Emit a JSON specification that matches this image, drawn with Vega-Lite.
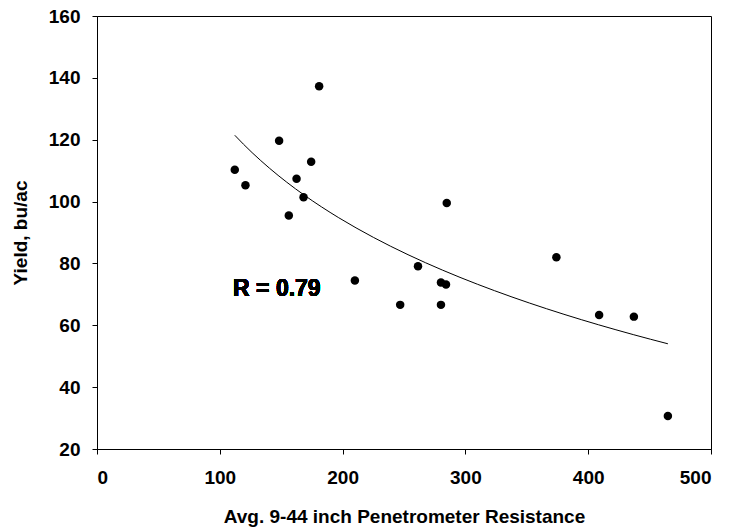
{
  "$schema": "https://vega.github.io/schema/vega-lite/v6.json",
  "width": 614,
  "height": 433,
  "autosize": "none",
  "padding": {"left": 97, "top": 16, "right": 18, "bottom": 78},
  "background": "white",
  "config": {
    "view": {"stroke": "black", "strokeWidth": 1},
    "font": "Liberation Sans",
    "axis": {
      "grid": false,
      "domainColor": "black",
      "domainWidth": 1,
      "tickColor": "black",
      "tickSize": 5,
      "tickWidth": 1,
      "labelFont": "Liberation Sans",
      "labelFontWeight": "bold",
      "labelFontSize": 19,
      "labelColor": "black",
      "titleFont": "Liberation Sans",
      "titleFontWeight": "bold",
      "titleFontSize": 19,
      "titleColor": "black"
    }
  },
  "data": {
    "values": [
      {"Resistance": 112.2, "Yield": 110.3},
      {"Resistance": 120.9, "Yield": 105.3},
      {"Resistance": 148.3, "Yield": 119.7},
      {"Resistance": 156.2, "Yield": 95.5},
      {"Resistance": 162.5, "Yield": 107.4},
      {"Resistance": 168.2, "Yield": 101.4},
      {"Resistance": 174.4, "Yield": 112.9},
      {"Resistance": 180.9, "Yield": 137.3},
      {"Resistance": 210.0, "Yield": 74.5},
      {"Resistance": 246.9, "Yield": 66.6},
      {"Resistance": 261.4, "Yield": 79.1},
      {"Resistance": 280.1, "Yield": 73.8},
      {"Resistance": 284.2, "Yield": 73.2},
      {"Resistance": 280.1, "Yield": 66.6},
      {"Resistance": 284.8, "Yield": 99.5},
      {"Resistance": 374.1, "Yield": 82.0},
      {"Resistance": 408.9, "Yield": 63.3},
      {"Resistance": 437.2, "Yield": 62.8},
      {"Resistance": 464.9, "Yield": 30.7}
    ]
  },
  "encoding": {
    "x": {
      "field": "Resistance",
      "type": "quantitative",
      "scale": {"domain": [0, 500], "nice": false, "zero": false},
      "axis": {
        "title": "Avg. 9-44 inch Penetrometer Resistance",
        "values": [0, 100, 200, 300, 400, 500],
        "labelPadding": 14,
        "titleBaseline": "alphabetic",
        "titleY": 73
      }
    },
    "y": {
      "field": "Yield",
      "type": "quantitative",
      "scale": {"domain": [20, 160], "nice": false, "zero": false},
      "axis": {
        "title": "Yield, bu/ac",
        "values": [20, 40, 60, 80, 100, 120, 140, 160],
        "labelPadding": 12,
        "titleBaseline": "alphabetic",
        "titleX": -71
      }
    }
  },
  "layer": [
    {
      "mark": {"type": "point", "filled": true, "color": "black", "opacity": 1, "size": 72}
    },
    {
      "transform": [
        {"regression": "Yield", "on": "Resistance", "method": "log"}
      ],
      "mark": {"type": "line", "color": "black", "strokeWidth": 1}
    },
    {
      "mark": {
        "type": "text",
        "text": "R = 0.79",
        "align": "left",
        "baseline": "alphabetic",
        "font": "Liberation Sans",
        "fontWeight": "bold",
        "fontSize": 23,
        "color": "black"
      },
      "encoding": {
        "x": {"datum": 110.8, "type": "quantitative"},
        "y": {"datum": 69.6, "type": "quantitative"}
      }
    }
  ]
}
